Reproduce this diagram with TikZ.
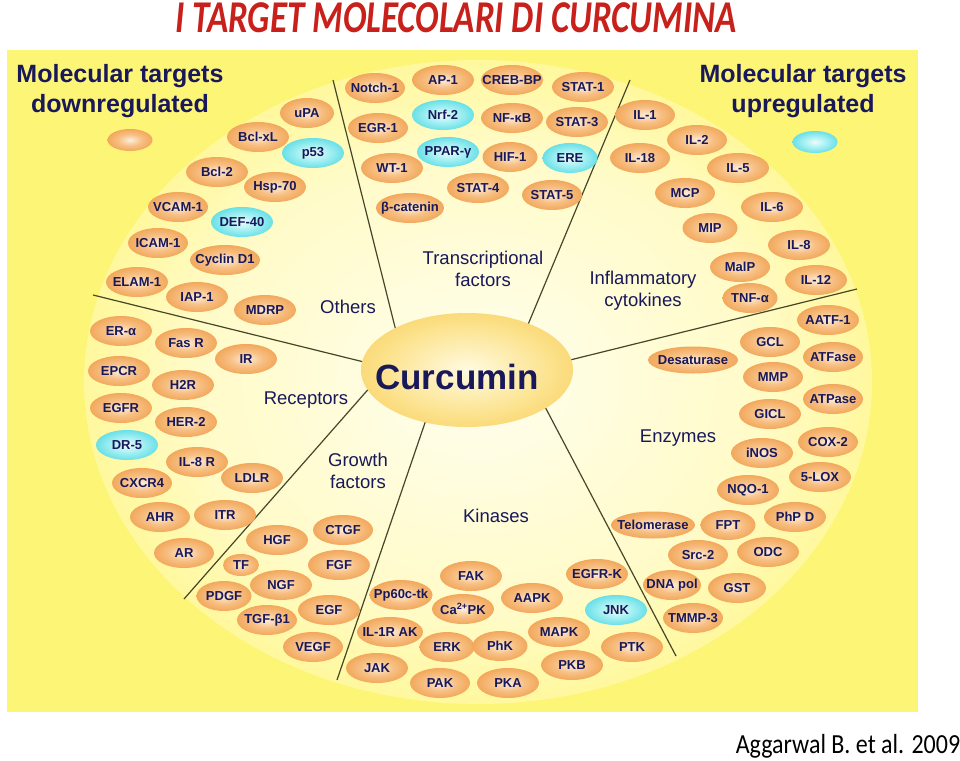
\documentclass[tikz,border=0pt]{standalone}
\usepackage{fontspec}
\usepackage{graphicx}
\setmainfont{Liberation Sans}
\newfontfamily\calibri{Carlito}
\usetikzlibrary{shapes.geometric}
\definecolor{navy}{RGB}{24,24,90}
\definecolor{divline}{RGB}{70,70,40}
\definecolor{titlered}{RGB}{200,32,26}
\definecolor{bgyellow}{RGB}{253,245,118}
\definecolor{orin}{RGB}{253,238,220}
\definecolor{ormid}{RGB}{247,192,132}
\definecolor{orout}{RGB}{238,150,62}
\definecolor{orrim}{RGB}{228,134,46}
\definecolor{cyin}{RGB}{236,252,252}
\definecolor{cymid}{RGB}{165,240,242}
\definecolor{cyout}{RGB}{60,212,224}
\definecolor{cyrim}{RGB}{40,195,210}
\definecolor{bgin}{RGB}{255,254,238}
\definecolor{bgm1}{RGB}{255,251,200}
\definecolor{bgm2}{RGB}{255,247,140}
\definecolor{bgm3}{RGB}{255,243,60}
\definecolor{bgout}{RGB}{255,240,5}
\definecolor{curin}{RGB}{255,251,225}
\definecolor{curmid}{RGB}{252,226,140}
\definecolor{curout}{RGB}{245,192,60}
\definecolor{currim}{RGB}{236,178,42}
\pgfdeclareradialshading{orsh}{\pgfpoint{0bp}{0bp}}{color(0bp)=(orin); color(13bp)=(ormid); color(34bp)=(orout); color(50bp)=(orrim)}
\pgfdeclareradialshading{cysh}{\pgfpoint{0bp}{0bp}}{color(0bp)=(cyin); color(13bp)=(cymid); color(34bp)=(cyout); color(50bp)=(cyrim)}
\pgfdeclareradialshading{bgsh}{\pgfpoint{0bp}{0bp}}{color(0bp)=(bgin); color(18bp)=(bgm1); color(28bp)=(bgm2); color(35bp)=(bgm3); color(40bp)=(bgout); color(50bp)=(bgout)}
\pgfdeclareradialshading{cursh}{\pgfpoint{0bp}{0bp}}{color(0bp)=(curin); color(20bp)=(curmid); color(42bp)=(curout); color(50bp)=(currim)}
\newcommand\mtxt[1]{\makebox[0pt]{#1}}
\newcommand\molfont{\fontsize{13}{15}\selectfont\bfseries}
\newcommand\secfont{\fontsize{18.5}{22}\selectfont}
\tikzset{
  mol/.style={ellipse, minimum width=62pt, minimum height=30pt, inner sep=0pt,
    shading=orsh, text=navy, font=\molfont},
  cy/.style={mol, shading=cysh},
  w/.style={minimum width=#1pt},
  h/.style={minimum height=#1pt},
  sec/.style={text=navy, font=\secfont, align=center, inner sep=0pt},
  head/.style={text=navy, font=\fontsize{25}{30}\selectfont\bfseries, align=center, inner sep=0pt},
  divider/.style={draw=divline, line width=1.2pt}
}
\begin{document}
\begin{tikzpicture}[x=1pt,y=-1pt]
\useasboundingbox (0,0) rectangle (960,760);
\fill[white] (0,0) rectangle (960,760);
% background panel
\fill[bgyellow] (7,50) rectangle (918,712);
\shade[shading=bgsh] (478,382) ellipse (394 and 322);

% divider coordinates
\coordinate (i1) at (397,335); \coordinate (o1) at (333,80);
\coordinate (i2) at (527,327); \coordinate (o2) at (630,80);
\coordinate (i3) at (570,360); \coordinate (o3) at (857,289);
\coordinate (i4) at (543,403); \coordinate (o4) at (676,656);
\coordinate (i5) at (428,414); \coordinate (o5) at (337,680);
\coordinate (i6) at (372,385); \coordinate (o6) at (184,599);
\coordinate (i7) at (372,364); \coordinate (o7) at (93,295);
\foreach \k in {1,...,7} {\draw[divider] (i\k) -- (o\k);}

% Curcumin
\node[ellipse, minimum width=212pt, minimum height=114pt, inner sep=0pt, shading=cursh] (cur) at (467,370) {};
\node[text=navy, font=\fontsize{35}{40}\selectfont\bfseries, inner sep=0pt] (curtxt) at (457,377) {Curcumin};

% headings
\node[head] (hdown) at (120,91) {Molecular targets\\downregulated};
\node[head] (hup) at (803,91) {Molecular targets\\upregulated};
\node[mol, w=45, h=22] (keydown) at (130,140) {};
\node[cy, w=45, h=22] (keyup) at (815,142) {};

% section labels
\node[sec] (lothers) at (348,307) {Others};
\node[sec] (ltrans) at (483,269) {Transcriptional\\factors};
\node[sec] (linfl) at (643,291) {Inflammatory\\cytokines};
\node[sec] (lrec) at (306,400) {Receptors};
\node[sec] (lgrowth) at (358,471) {Growth\\factors};
\node[sec] (lkin) at (496,516) {Kinases};
\node[sec] (lenz) at (678,438) {Enzymes};

% Others
\node[mol, w=54] (upa) at (307,113) {\mtxt{uPA}};
\node[mol] (bclxl) at (258,137) {\mtxt{Bcl-xL}};
\node[cy] (p53) at (313,153) {\mtxt{p53}};
\node[mol] (bcl2) at (217,172) {\mtxt{Bcl-2}};
\node[mol] (hsp70) at (275,187) {\mtxt{Hsp-70}};
\node[mol, w=60] (vcam1) at (178,207) {\mtxt{VCAM-1}};
\node[cy] (def40) at (242,222) {\mtxt{DEF-40}};
\node[mol, w=60] (icam1) at (158,243) {\mtxt{ICAM-1}};
\node[mol, w=70] (cyclind1) at (225,260) {\mtxt{Cyclin D1}};
\node[mol] (elam1) at (137,282) {\mtxt{ELAM-1}};
\node[mol] (iap1) at (197,297) {\mtxt{IAP-1}};
\node[mol] (mdrp) at (265,310) {\mtxt{MDRP}};

% Transcriptional factors
\node[mol, w=60] (notch1) at (375,88) {\mtxt{Notch-1}};
\node[mol] (ap1) at (443,80) {\mtxt{AP-1}};
\node[mol] (crebbp) at (512,80) {\mtxt{CREB-BP}};
\node[mol] (stat1) at (583,87) {\mtxt{STAT-1}};
\node[cy] (nrf2) at (443,115) {\mtxt{Nrf-2}};
\node[mol] (nfkb) at (512,118) {\mtxt{NF-κB}};
\node[mol] (stat3) at (577,122) {\mtxt{STAT-3}};
\node[mol, w=60] (egr1) at (378,128) {\mtxt{EGR-1}};
\node[cy] (ppar) at (448,152) {\mtxt{PPAR-γ}};
\node[mol, w=55] (hif1) at (510,157) {\mtxt{HIF-1}};
\node[cy, w=55] (ere) at (570,158) {\mtxt{ERE}};
\node[mol] (wt1) at (392,168) {\mtxt{WT-1}};
\node[mol] (stat4) at (478,188) {\mtxt{STAT-4}};
\node[mol, w=60] (stat5) at (552,195) {\mtxt{STAT-5}};
\node[mol, w=68] (bcat) at (410,208) {\mtxt{β-catenin}};

% Inflammatory cytokines
\node[mol, w=60] (il1) at (645,115) {\mtxt{IL-1}};
\node[mol, w=60] (il2) at (697,140) {\mtxt{IL-2}};
\node[mol, w=60] (il18) at (640,158) {\mtxt{IL-18}};
\node[mol] (il5) at (738,168) {\mtxt{IL-5}};
\node[mol, w=60] (mcp) at (685,193) {\mtxt{MCP}};
\node[mol] (il6) at (772,207) {\mtxt{IL-6}};
\node[mol, w=55] (mip) at (710,228) {\mtxt{MIP}};
\node[mol] (il8) at (799,245) {\mtxt{IL-8}};
\node[mol, w=60] (malp) at (740,267) {\mtxt{MalP}};
\node[mol] (il12) at (816,280) {\mtxt{IL-12}};
\node[mol, w=55] (tnfa) at (750,298) {\mtxt{TNF-α}};

% Enzymes
\node[mol] (aatf1) at (828,320) {\mtxt{AATF-1}};
\node[mol, w=60] (gcl) at (770,342) {\mtxt{GCL}};
\node[mol, w=90, h=27] (desat) at (693,360) {\mtxt{Desaturase}};
\node[mol, w=60] (atfase) at (833,357) {\mtxt{ATFase}};
\node[mol, w=60] (mmp) at (773,377) {\mtxt{MMP}};
\node[mol, w=60] (atpase) at (833,399) {\mtxt{ATPase}};
\node[mol] (gicl) at (770,414) {\mtxt{GICL}};
\node[mol, w=60] (cox2) at (828,442) {\mtxt{COX-2}};
\node[mol] (inos) at (762,453) {\mtxt{iNOS}};
\node[mol] (lox5) at (820,477) {\mtxt{5-LOX}};
\node[mol] (nqo1) at (748,490) {\mtxt{NQO-1}};
\node[mol] (phpd) at (795,517) {\mtxt{PhP D}};
\node[mol, w=84, h=27] (telo) at (653,525) {\mtxt{Telomerase}};
\node[mol, w=55] (fpt) at (728,525) {\mtxt{FPT}};
\node[mol, w=60] (src2) at (698,555) {\mtxt{Src-2}};
\node[mol] (odc) at (768,552) {\mtxt{ODC}};
\node[mol, w=58] (dnapol) at (672,585) {\mtxt{DNA pol}};
\node[mol, w=58] (gst) at (737,588) {\mtxt{GST}};
\node[mol, w=60] (tmmp3) at (693,618) {\mtxt{TMMP-3}};

% Kinases
\node[mol] (fak) at (471,576) {\mtxt{FAK}};
\node[mol] (egfrk) at (597,574) {\mtxt{EGFR-K}};
\node[mol, w=63] (pp60) at (401,595) {\mtxt{Pp60c-tk}};
\node[mol] (capk) at (463,609) {\mtxt{Ca\textsuperscript{2+}PK}};
\node[mol] (aapk) at (532,598) {\mtxt{AAPK}};
\node[cy] (jnk) at (616,610) {\mtxt{JNK}};
\node[mol, w=66] (il1rak) at (390,632) {\mtxt{IL-1R AK}};
\node[mol] (mapk) at (559,632) {\mtxt{MAPK}};
\node[mol, w=55] (erk) at (447,647) {\mtxt{ERK}};
\node[mol, w=55] (phk) at (500,646) {\mtxt{PhK}};
\node[mol] (ptk) at (632,647) {\mtxt{PTK}};
\node[mol] (jak) at (377,668) {\mtxt{JAK}};
\node[mol] (pkb) at (572,665) {\mtxt{PKB}};
\node[mol, w=60] (pak) at (440,683) {\mtxt{PAK}};
\node[mol] (pka) at (508,683) {\mtxt{PKA}};

% Growth factors
\node[mol] (hgf) at (277,540) {\mtxt{HGF}};
\node[mol, w=60] (ctgf) at (343,530) {\mtxt{CTGF}};
\node[mol, w=36, h=22] (tf) at (241,565) {\mtxt{TF}};
\node[mol] (fgf) at (339,565) {\mtxt{FGF}};
\node[mol] (ngf) at (281,585) {\mtxt{NGF}};
\node[mol, w=55] (pdgf) at (224,596) {\mtxt{PDGF}};
\node[mol] (egf) at (329,610) {\mtxt{EGF}};
\node[mol, w=60] (tgfb1) at (267,620) {\mtxt{TGF-β1}};
\node[mol, w=60] (vegf) at (313,647) {\mtxt{VEGF}};

% Receptors
\node[mol] (era) at (121,331) {\mtxt{ER-α}};
\node[mol] (fasr) at (186,343) {\mtxt{Fas R}};
\node[mol] (ir) at (246,359) {\mtxt{IR}};
\node[mol] (epcr) at (119,371) {\mtxt{EPCR}};
\node[mol] (h2r) at (183,385) {\mtxt{H2R}};
\node[mol] (egfr) at (121,408) {\mtxt{EGFR}};
\node[mol] (her2) at (186,422) {\mtxt{HER-2}};
\node[cy] (dr5) at (127,445) {\mtxt{DR-5}};
\node[mol] (il8r) at (197,462) {\mtxt{IL-8 R}};
\node[mol, w=60] (cxcr4) at (142,483) {\mtxt{CXCR4}};
\node[mol] (ldlr) at (252,478) {\mtxt{LDLR}};
\node[mol, w=60] (ahr) at (160,517) {\mtxt{AHR}};
\node[mol] (itr) at (225,515) {\mtxt{ITR}};
\node[mol, w=60] (ar) at (184,553) {\mtxt{AR}};

% title and citation
\node[text=titlered, font=\calibri\bfseries\itshape\fontsize{35}{40}\selectfont, inner sep=0pt] (title) at (456,18) {\scalebox{1}[1.3]{I TARGET MOLECOLARI DI CURCUMINA}};
\node[text=black, font=\calibri\fontsize{24}{28}\selectfont, inner sep=0pt] (cite) at (848,746) {\scalebox{1}[1.15]{Aggarwal B. et al. 2009}};
\end{tikzpicture}
\end{document}
